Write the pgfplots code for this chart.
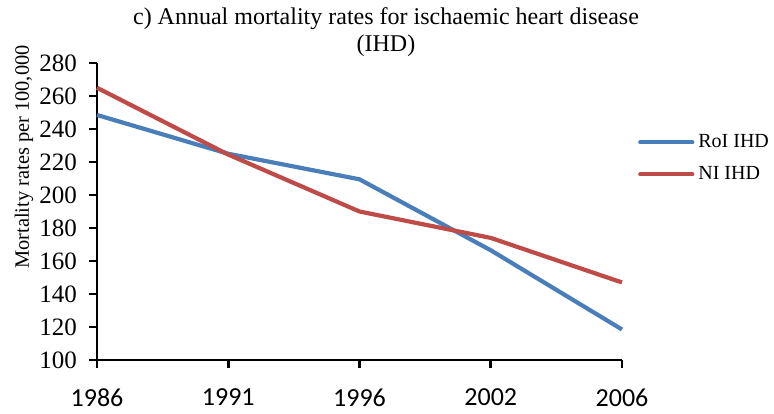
\documentclass[border=0pt]{standalone}
\usepackage{fontspec}
\setmainfont{Liberation Serif}
\newfontfamily\carlito{Carlito}
\usepackage{pgfplots}
\pgfplotsset{compat=1.18}
\definecolor{roiblue}{HTML}{4A7EBB}
\definecolor{nired}{HTML}{BE4B48}

\begin{document}
\begin{tikzpicture}
\begin{axis}[
  at={(0,0)}, anchor=south west,
  scale only axis, width=262.5pt, height=148.5pt,
  xmin=0, xmax=4, ymin=100, ymax=280,
  axis lines*=left,
  axis line style={line width=1.3pt},
  xtick={0,1,2,3,4},
  xticklabels={1986,1991,1996,2002,2006},
  ytick={100,120,...,280},
  tick align=outside,
  major tick length=3.8pt,
  tick style={line width=1.3pt, black},
  yticklabel={\rmfamily\pgfmathprintnumber[assume math mode=true]{\tick}},
  yticklabel style={font=\rmfamily\fontsize{12.5}{12.5}\selectfont, inner sep=1pt, xshift=-5pt},
  xticklabel style={font=\carlito\fontsize{13}{13}\selectfont, yshift=-7pt},
  legend style={at={(1.03,0.775)}, anchor=north west, draw=none, fill=none,
    font=\fontsize{10}{10}\selectfont, row sep=4pt, inner sep=0pt,
    /tikz/every even column/.style={column sep=0pt}},
  legend cell align=left,
  legend image code/.code={\draw[#1, line cap=round] (0pt,0pt) -- (26pt,0pt);},
  clip=false,
]
\addplot[roiblue, line width=2.1pt] coordinates {(0,248.5)(1,225)(2,209.5)(3,166.5)(4,118.5)};
\addlegendentry{RoI IHD}
\addplot[nired, line width=2.1pt] coordinates {(0,265)(1,224.5)(2,190)(3,174)(4,147)};
\addlegendentry{NI IHD}
\end{axis}
\node[align=center, font=\fontsize{12}{13.5}\selectfont] at (144.5pt,164pt)
  {c) Annual mortality rates for ischaemic heart disease\\(IHD)};
\node[rotate=90, font=\fontsize{10.2}{10.2}\selectfont] at (-36.5pt,101.5pt)
  {Mortality rates per 100,000};
\path[use as bounding box] (-48.5pt,-24pt) rectangle (338.5pt,180pt);
\end{tikzpicture}
\end{document}
